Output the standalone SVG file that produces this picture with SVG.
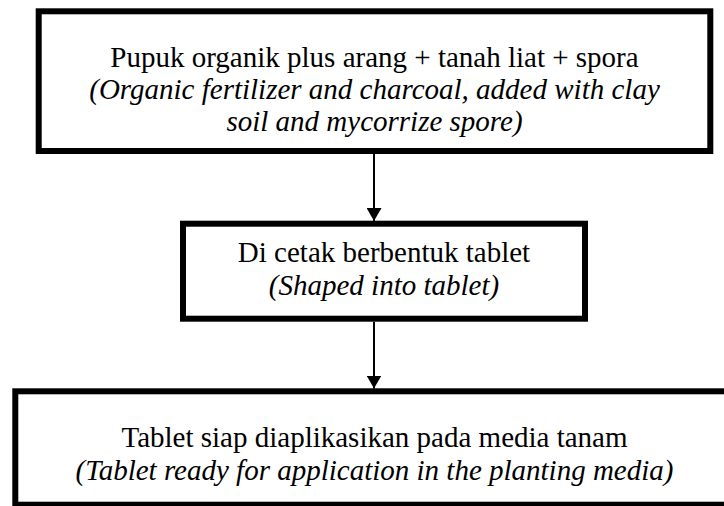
<svg xmlns="http://www.w3.org/2000/svg" width="724" height="506" viewBox="0 0 724 506">
  <style>
    .box { fill: #ffffff; stroke: #000000; stroke-width: 6; }
    .t { font-family: 'Liberation Serif', 'Times New Roman', Times, serif; font-size: 29px; fill: #000000; text-anchor: middle; }
    .it { font-style: italic; }
    .conn { stroke: #000000; stroke-width: 2; fill: none; }
  </style>
  <defs>
    <marker id="arrow" markerUnits="userSpaceOnUse" markerWidth="14" markerHeight="15" refX="13" refY="7.5" orient="auto">
      <path d="M0,0 L13,7.5 L0,15 z" fill="#000000"/>
    </marker>
  </defs>
  <rect width="724" height="506" fill="#ffffff"/>

  <!-- step 1: raw materials -->
  <g id="node-mix">
    <rect class="box" x="38.7" y="11.3" width="671.6" height="139.7"/>
    <text class="t" x="374.5" y="67">Pupuk organik plus arang + tanah liat + spora</text>
    <text class="t it" x="374.5" y="99">(Organic fertilizer and charcoal, added with clay</text>
    <text class="t it" x="374.5" y="131">soil and mycorrize spore)</text>
  </g>

  <!-- step 2: moulding -->
  <g id="node-shape">
    <rect class="box" x="183" y="223.7" width="402" height="95"/>
    <text class="t" x="384" y="262">Di cetak berbentuk tablet</text>
    <text class="t it" x="384" y="295">(Shaped into tablet)</text>
  </g>

  <!-- step 3: ready tablet (frame runs past the right edge of the sheet) -->
  <g id="node-ready">
    <rect class="box" x="15.3" y="391.3" width="718.4" height="113.4"/>
    <text class="t" x="374.5" y="447">Tablet siap diaplikasikan pada media tanam</text>
    <text class="t it" x="374.5" y="480">(Tablet ready for application in the planting media)</text>
  </g>

  <g id="connectors">
    <line class="conn" x1="374" y1="154" x2="374" y2="221" marker-end="url(#arrow)"/>
    <line class="conn" x1="374" y1="321.7" x2="374" y2="388.5" marker-end="url(#arrow)"/>
  </g>
</svg>
